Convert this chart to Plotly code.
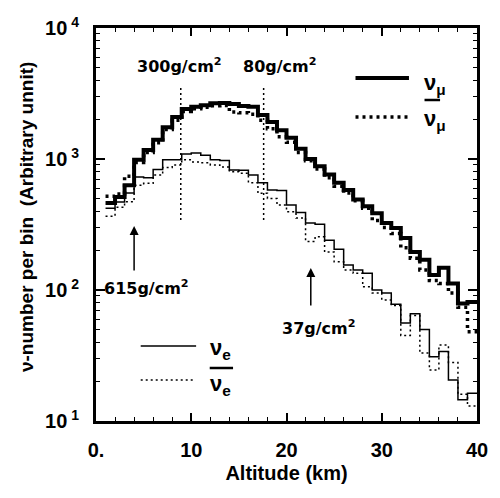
import plotly.graph_objects as go

# 1 km altitude bins from 1 km to 40 km
bin_edges = list(range(1, 41))

# neutrino counts per bin (arbitrary units)
nu_mu = [461, 513, 630, 985, 1170, 1400, 1750, 2090, 2410, 2500,
         2575, 2670, 2680, 2630, 2540, 2500, 2170, 1920, 1660, 1450,
         1200, 1000, 880, 760, 660, 580, 490, 435, 385, 325,
         297, 249, 195, 170, 130, 148, 112, 79, 81]
nu_mu_bar = [520, 540, 740, 940, 1120, 1330, 1680, 1980, 2300, 2420,
             2480, 2550, 2560, 2280, 2250, 2200, 1980, 1700, 1480, 1340,
             1120, 970, 840, 720, 620, 550, 480, 420, 340, 300,
             270, 210, 175, 142, 118, 112, 95, 74, 48]
nu_e = [420, 470, 550, 730, 720, 830, 985, 985, 1090, 1110,
        1070, 985, 975, 825, 820, 755, 660, 580, 575, 445,
        390, 324, 318, 240, 205, 155, 142, 134, 100, 95,
        78, 56, 66, 50, 31, 34, 20.6, 14.5, 16.3]
nu_e_bar = [365, 428, 472, 630, 652, 755, 862, 900, 985, 950,
            938, 900, 870, 800, 780, 660, 547, 500, 445, 396,
            355, 235, 255, 195, 164, 142, 134, 106, 95, 84,
            76, 45, 64, 33, 24.5, 38, 28, 16, 13]

# atmospheric depth markers: dotted verticals and arrows
depth_lines_km = [8.9, 17.6]
depth_lines_text = ["300g/cm<sup>2</sup>", "80g/cm<sup>2</sup>"]
depth_line_span = [342, 3600]
depth_arrows_km = [4.0, 22.55]
depth_arrows_text = ["615g/cm<sup>2</sup>", "37g/cm<sup>2</sup>"]

x_ticks = [0, 10, 20, 30, 40]
x_ticktext = ["0.", "10", "20", "30", "40"]
y_ticks = [10, 100, 1000, 10000]
y_exponents = ["1", "2", "3", "4"]

AX_FONT = "Liberation Sans, Arial, sans-serif"
LBL_FONT = "DejaVu Sans, sans-serif"


def step(vals):
    return vals + [vals[-1]]


fig = go.Figure()

series = [
    (nu_mu, dict(color="black", width=4)),
    (nu_mu_bar, dict(color="black", width=3.5, dash="3px,4px")),
    (nu_e, dict(color="black", width=1.5)),
    (nu_e_bar, dict(color="black", width=1.5, dash="2px,3px")),
]
for vals, line in series:
    fig.add_trace(go.Scatter(x=bin_edges, y=step(vals), mode="lines",
                             line=dict(shape="hv", **line), showlegend=False,
                             hoverinfo="skip"))

for xk in depth_lines_km:
    fig.add_trace(go.Scatter(x=[xk, xk], y=depth_line_span, mode="lines",
                             line=dict(color="black", width=1.5, dash="2px,3px"),
                             showlegend=False, hoverinfo="skip"))

# text over the dotted depth markers
label_pos = [(8.8, 3.71), (19.3, 3.71)]
for (lx, ly), txt in zip(label_pos, depth_lines_text):
    fig.add_annotation(x=lx, y=ly, xref="x", yref="y", text="<b>" + txt + "</b>",
                       showarrow=False,
                       font=dict(family=LBL_FONT, size=16, color="black"),
                       xanchor="center", yanchor="middle")

# arrows with their labels
arrow_tip = [2.489, 2.168]
arrow_tail = [2.137, 1.87]
arrow_text_pos = [(5.3, 2.02), (23.4, 1.71)]
for xk, tip, tail, (tx, ty), txt in zip(depth_arrows_km, arrow_tip, arrow_tail,
                                        arrow_text_pos, depth_arrows_text):
    fig.add_annotation(x=xk, y=tip, ax=xk, ay=tail, xref="x", yref="y",
                       axref="x", ayref="y", text="", showarrow=True,
                       arrowhead=2, arrowsize=1.2, arrowwidth=1.5, arrowcolor="black")
    fig.add_annotation(x=tx, y=ty, xref="x", yref="y", text="<b>" + txt + "</b>",
                       showarrow=False,
                       font=dict(family=LBL_FONT, size=16, color="black"),
                       xanchor="center", yanchor="middle")


# legend keys drawn in paper coordinates
def px(x):
    return (x - 96) / 392


def py(y):
    return (421 - y) / 393


keys = [
    (363, 418, 78, dict(color="black", width=4)),
    (363, 418, 117, dict(color="black", width=3.5, dash="3px,4px")),
    (142, 199, 346, dict(color="black", width=1.5)),
    (142, 197, 380, dict(color="black", width=1.5, dash="2px,3px")),
]
for x0, x1, yy, line in keys:
    fig.add_shape(type="line", xref="paper", yref="paper",
                  x0=px(x0), x1=px(x1), y0=py(yy), y1=py(yy), line=line)

# overbars for antineutrinos
for x0, x1, yy in [(434, 450, 100), (213, 237, 368)]:
    fig.add_shape(type="line", xref="paper", yref="paper",
                  x0=px(x0), x1=px(x1), y0=py(yy), y1=py(yy),
                  line=dict(color="black", width=2.5))

key_text = [
    (431, 84, "<b>ν<sub>μ</sub></b>"),
    (431, 120, "<b>ν<sub>μ</sub></b>"),
    (211, 349, "<b>ν<sub>e</sub></b>"),
    (211, 385, "<b>ν<sub>e</sub></b>"),
]
for xx, yy, txt in key_text:
    fig.add_annotation(x=px(xx), y=py(yy), xref="paper", yref="paper", text=txt,
                       showarrow=False, xanchor="left", yanchor="middle",
                       font=dict(family=AX_FONT, size=22, color="black"))

# y-axis title placed along the left edge
fig.add_annotation(x=px(24), y=py(217), xref="paper", yref="paper",
                   text="<b>ν-number per bin  (Arbitrary unnit)</b>",
                   textangle=-90, showarrow=False, xanchor="center", yanchor="middle",
                   font=dict(family=AX_FONT, size=19, color="black"))

fig.update_layout(
    width=500, height=498,
    margin=dict(l=96, r=12, t=28, b=77),
    paper_bgcolor="white", plot_bgcolor="white",
    font=dict(family=AX_FONT, color="black"),
)
fig.update_xaxes(
    range=[0, 40], showgrid=False, zeroline=False,
    showline=True, linewidth=2.5, linecolor="black", mirror="ticks",
    ticks="inside", ticklen=8, tickwidth=1.5, tickcolor="black",
    tickvals=x_ticks, ticktext=["<b>" + t + "</b>" for t in x_ticktext],
    tickfont=dict(family=AX_FONT, size=20, color="black"),
    ticklabelstandoff=9,
    minor=dict(dtick=2, ticks="inside", ticklen=4, tickwidth=1, tickcolor="black", showgrid=False),
    title=dict(text="<b>Altitude (km)</b>", standoff=7,
               font=dict(family=AX_FONT, size=20, color="black")),
)
fig.update_yaxes(
    type="log", range=[1, 4], showgrid=False, zeroline=False,
    showline=True, linewidth=3, linecolor="black", mirror="ticks",
    ticks="inside", ticklen=9, tickwidth=1.5, tickcolor="black",
    tickvals=y_ticks,
    ticktext=["<b>10<sup> " + e + "</sup></b>" for e in y_exponents],
    tickfont=dict(family=AX_FONT, size=20, color="black"),
    ticklabelstandoff=10,
    minor=dict(ticks="inside", ticklen=4, tickwidth=1, tickcolor="black", showgrid=False,
               tickvals=[m * 10 ** e for e in (1, 2, 3) for m in range(2, 10)]),
)

fig.write_html("out.html")
